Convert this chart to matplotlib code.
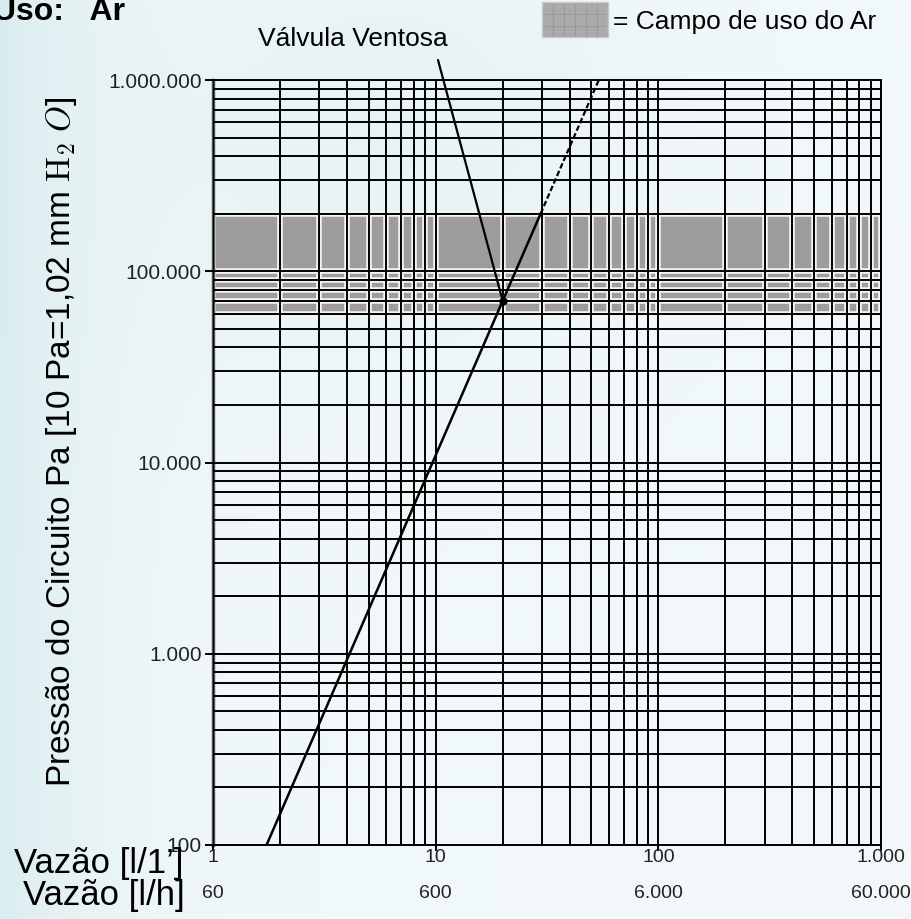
import numpy as np
import matplotlib.pyplot as plt
from matplotlib.ticker import FixedLocator, NullFormatter, FixedFormatter
from matplotlib.patches import Rectangle
from matplotlib.lines import Line2D

plt.rcParams["font.family"] = ["Liberation Sans", "DejaVu Sans"]
plt.rcParams["mathtext.fontset"] = "cm"

# flow axis (l/min) and its l/h equivalent
FLOW_TICKS = [1, 10, 100, 1000]
FLOW_LPM_LABELS = ["1", "10", "100", "1.000"]
FLOW_LPH_LABELS = ["60", "600", "6.000", "60.000"]

# pressure axis (Pa)
PRESSURE_TICKS = [100, 1000, 10000, 100000, 1000000]
PRESSURE_LABELS = ["100", "1.000", "10.000", "100.000", "1.000.000"]

# field of use for air
AIR_BAND_LOW = 60000
AIR_BAND_HIGH = 200000

# valve characteristic: measured part and dashed extension
CURVE_FLOW = [1.74, 20.0, 29.6]
CURVE_PRESS = [100, 70000, 200000]
CURVE_EXT_FLOW = [29.6, 54.0]
CURVE_EXT_PRESS = [200000, 1000000]

VALVE_FLOW = 20.0
VALVE_PRESS = 70000

BG = "#eef6f8"
W, H = 911, 919

fig = plt.figure(figsize=(9.11, 9.19), dpi=100, facecolor=BG)

# soft watery backdrop: teal towards the left edge, paler at the top
yy, xx = np.mgrid[0:1:200j, 0:1:200j]
shade = 0.55 * np.exp(-xx / 0.12) + 0.25 * np.exp(-((xx - 0.45) ** 2 + (yy - 0.15) ** 2) / 0.08)
shade = np.clip(shade, 0, 1)
teal = np.array([0.78, 0.89, 0.91])
pale = np.array([0.95, 0.975, 0.98])
bg_img = pale[None, None, :] * (1 - shade[..., None]) + teal[None, None, :] * shade[..., None]
bg_ax = fig.add_axes([0, 0, 1, 1], zorder=-1)
bg_ax.imshow(bg_img, aspect="auto", extent=(0, 1, 0, 1), interpolation="bilinear")
bg_ax.axis("off")

ax = fig.add_axes([213 / W, 1 - 845 / H, (881 - 213) / W, (845 - 80) / H])
ax.set_facecolor("none")
ax.set_xscale("log")
ax.set_yscale("log")
ax.set_xlim(1, 1000)
ax.set_ylim(100, 1000000)

# grid on every 1..9 x 10^k
xgrid = [m * 10 ** k for k in range(3) for m in range(1, 10)] + [1000]
ygrid = [m * 10 ** k for k in range(2, 6) for m in range(1, 10)] + [1000000]
ax.xaxis.set_major_locator(FixedLocator(FLOW_TICKS))
ax.xaxis.set_minor_locator(FixedLocator(xgrid))
ax.yaxis.set_major_locator(FixedLocator(PRESSURE_TICKS))
ax.yaxis.set_minor_locator(FixedLocator(ygrid))
ax.xaxis.set_major_formatter(NullFormatter())
ax.xaxis.set_minor_formatter(NullFormatter())
ax.yaxis.set_major_formatter(FixedFormatter(PRESSURE_LABELS))
ax.yaxis.set_minor_formatter(NullFormatter())
ax.grid(True, which="both", color="black", lw=1.4)
ax.set_axisbelow(False)
ax.tick_params(which="minor", length=0)
ax.tick_params(axis="y", which="major", length=6, width=1.4, pad=2,
               labelsize=15, labelcolor="#222222")
ax.tick_params(axis="x", which="major", length=4, width=1.4)
for side in ["top", "right", "bottom"]:
    ax.spines[side].set_linewidth(1.4)
ax.spines["left"].set_linewidth(2.5)
ax.spines["left"].set_color("#555555")

# shaded air band with light borders around the grid lines
ax.axhspan(AIR_BAND_LOW, AIR_BAND_HIGH, color="#9d9d9d", lw=0, zorder=0.5)
ax.vlines(xgrid, AIR_BAND_LOW, AIR_BAND_HIGH, color="#f4f4f4", lw=4.0, zorder=1)
band_rows = [y for y in ygrid if AIR_BAND_LOW <= y <= AIR_BAND_HIGH]
ax.hlines(band_rows, 1, 1000, color="#f4f4f4", lw=4.0, zorder=1)

# valve curve
ax.plot(CURVE_FLOW, CURVE_PRESS, color="black", lw=1.8, zorder=3)
ax.plot(CURVE_EXT_FLOW, CURVE_EXT_PRESS, color="black", lw=1.6,
        ls=(0, (2.5, 1.2)), zorder=3)
ax.plot([VALVE_FLOW], [VALVE_PRESS], "o", color="black", ms=5, zorder=4)

ax.annotate("", xy=(VALVE_FLOW, VALVE_PRESS), xycoords="data",
            xytext=(438 / W, 1 - 60 / H), textcoords="figure fraction",
            arrowprops=dict(arrowstyle="-", color="black", lw=1.6,
                            shrinkA=0, shrinkB=0), zorder=4)
fig.text(353 / W, 1 - 46 / H, "Válvula Ventosa", fontsize=19,
         ha="center", va="baseline")

# two rows of flow labels
for x, lpm, lph in zip(FLOW_TICKS, FLOW_LPM_LABELS, FLOW_LPH_LABELS):
    ax.annotate(lpm, xy=(x, 0), xycoords=("data", "axes fraction"),
                xytext=(0, -13 * 0.72), textcoords="offset points",
                ha="center", va="center", fontsize=14, color="#222222")
    ax.annotate(lph, xy=(x, 0), xycoords=("data", "axes fraction"),
                xytext=(0, -48 * 0.72), textcoords="offset points",
                ha="center", va="center", fontsize=14, color="#222222")
fig.text(183 / W, 1 - 863 / H, "Vazão [l/1’]", fontsize=25,
         ha="right", va="center")
fig.text(185 / W, 1 - 896 / H, "Vazão [l/h]", fontsize=25,
         ha="right", va="center")

fig.text(62 / W, 1 - 442 / H,
         r"Pressão do Circuito Pa [10 Pa=1,02 mm $\mathrm{H}_2\ O$]",
         fontsize=24, rotation=90, ha="center", va="center")

# title, cut at the left edge
fig.text(-7 / W, 1 - 20 / H, "Uso:   Ar", fontsize=23, fontweight="bold",
         ha="left", va="baseline")

# legend swatch for the air band
sw = Rectangle((542 / W, 1 - 37 / H), 66 / W, 35 / H, transform=fig.transFigure,
               facecolor="#ababab", edgecolor="#c8c8c8", lw=1)
fig.add_artist(sw)
for i in range(1, 6):
    xp = (542 + i * 11) / W
    fig.add_artist(Line2D([xp, xp], [1 - 36 / H, 1 - 3 / H], transform=fig.transFigure,
                          color="#888888", lw=0.8, ls=(0, (1, 1.5))))
for yp in (14, 26):
    fig.add_artist(Line2D([543 / W, 607 / W], [1 - yp / H] * 2, transform=fig.transFigure,
                          color="#888888", lw=0.8, ls=(0, (1, 1.5))))
fig.text(613 / W, 1 - 22 / H, "= Campo de uso do Ar", fontsize=19,
         ha="left", va="center")

fig.savefig("out.png", dpi=100, facecolor=BG)
